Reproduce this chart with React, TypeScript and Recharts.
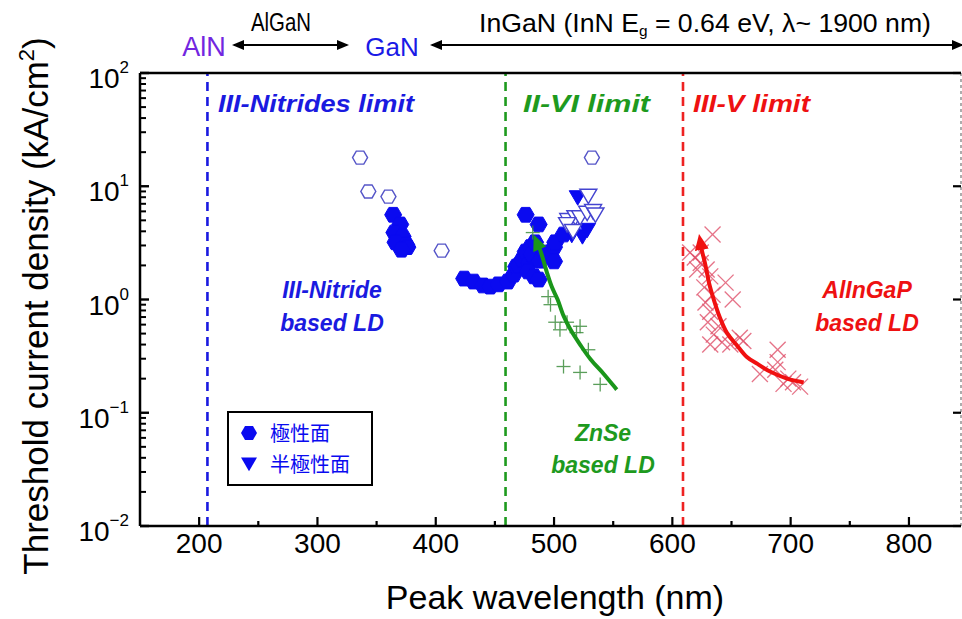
import React from 'react';
import { ScatterChart, Scatter, XAxis, YAxis, ReferenceLine } from 'recharts';

// wavelength (nm) vs threshold current density (kA/cm2)
const polarFilled = [
  { wl: 364, j: 5.6 }, { wl: 370, j: 4.6 }, { wl: 365, j: 3.9 }, { wl: 372, j: 3.6 },
  { wl: 366, j: 3.2 }, { wl: 375, j: 3.05 }, { wl: 376, j: 2.9 }, { wl: 371, j: 2.75 },
  { wl: 424, j: 1.53 }, { wl: 432, j: 1.44 }, { wl: 440, j: 1.33 }, { wl: 446, j: 1.3 },
  { wl: 453, j: 1.36 }, { wl: 461, j: 1.44 }, { wl: 466, j: 1.66 }, { wl: 468, j: 1.95 },
  { wl: 470, j: 2.0 }, { wl: 473, j: 2.25 }, { wl: 476, j: 2.65 }, { wl: 479, j: 2.1 },
  { wl: 480, j: 2.9 }, { wl: 481, j: 2.5 }, { wl: 484, j: 3.2 }, { wl: 478, j: 1.77 },
  { wl: 483, j: 1.6 }, { wl: 487, j: 1.5 }, { wl: 488, j: 2.2 }, { wl: 492, j: 2.6 },
  { wl: 500, j: 2.9 }, { wl: 500, j: 2.17 }, { wl: 476, j: 5.6 }, { wl: 487, j: 4.6 },
  { wl: 501, j: 3.2 }, { wl: 508, j: 3.75 },
];
const polarOpen = [
  { wl: 336, j: 17.9 }, { wl: 343, j: 9.0 }, { wl: 360, j: 8.1 }, { wl: 405, j: 2.7 }, { wl: 532, j: 17.9 },
];
const semiFilled = [
  { wl: 520, j: 7.95 }, { wl: 524, j: 3.6 }, { wl: 528, j: 4.1 }, { wl: 515, j: 3.7 },
];
const semiOpen = [
  { wl: 529, j: 8.2 }, { wl: 512, j: 5.0 }, { wl: 518, j: 5.3 }, { wl: 522, j: 5.3 },
  { wl: 528, j: 5.8 }, { wl: 533, j: 6.0 }, { wl: 535, j: 5.6 }, { wl: 511, j: 4.6 }, { wl: 516, j: 4.0 },
];
const znse = [
  { wl: 482, j: 3.9 }, { wl: 495, j: 1.06 }, { wl: 497, j: 0.9 }, { wl: 501, j: 0.63 },
  { wl: 511, j: 0.63 }, { wl: 505, j: 0.54 }, { wl: 522, j: 0.58 }, { wl: 519, j: 0.51 },
  { wl: 529, j: 0.36 }, { wl: 508, j: 0.256 }, { wl: 522, j: 0.227 }, { wl: 539, j: 0.178 },
];
const znseFit = [
  { wl: 553, j: 0.16 }, { wl: 542, j: 0.22 }, { wl: 531, j: 0.295 }, { wl: 522, j: 0.4 },
  { wl: 514, j: 0.54 }, { wl: 508, j: 0.72 }, { wl: 503, j: 1.0 }, { wl: 498, j: 1.3 },
  { wl: 494, j: 1.73 }, { wl: 489, j: 2.6 }, { wl: 486, j: 3.1 },
];
const alingap = [
  { wl: 634, j: 3.75 }, { wl: 615, j: 2.6 }, { wl: 619, j: 2.35 }, { wl: 624, j: 2.1 },
  { wl: 629, j: 1.84 }, { wl: 621, j: 1.84 }, { wl: 632, j: 1.6 }, { wl: 645, j: 1.41 },
  { wl: 627, j: 1.28 }, { wl: 651, j: 1.0 }, { wl: 634, j: 1.1 }, { wl: 628, j: 0.94 },
  { wl: 632, j: 0.78 }, { wl: 630, j: 0.63 }, { wl: 639, j: 0.58 }, { wl: 635, j: 0.49 },
  { wl: 632, j: 0.4 }, { wl: 642, j: 0.42 }, { wl: 649, j: 0.4 }, { wl: 657, j: 0.46 },
  { wl: 660, j: 0.43 }, { wl: 689, j: 0.36 }, { wl: 689, j: 0.28 }, { wl: 687, j: 0.24 },
  { wl: 674, j: 0.22 }, { wl: 698, j: 0.2 }, { wl: 702, j: 0.186 }, { wl: 708, j: 0.17 },
  { wl: 694, j: 0.18 }, { wl: 624, j: 2.6 },
];
const alingapFit = [
  { wl: 711, j: 0.185 }, { wl: 697, j: 0.2 }, { wl: 683, j: 0.23 }, { wl: 672, j: 0.27 },
  { wl: 663, j: 0.31 }, { wl: 654, j: 0.4 }, { wl: 646, j: 0.51 }, { wl: 640, j: 0.7 },
  { wl: 635, j: 1.0 }, { wl: 631, j: 1.4 }, { wl: 628, j: 2.0 }, { wl: 625, j: 2.7 }, { wl: 624, j: 3.1 },
];
const limits = [
  { wl: 207, color: '#1a1ae0' },
  { wl: 459, color: '#1e9a1e' },
  { wl: 609, color: '#ee2222' },
];

const xTicks = [200, 250, 300, 350, 400, 450, 500, 550, 600, 650, 700, 750, 800];
const yTicks: number[] = [];
for (let d = -2; d <= 1; d++) {
  for (let m = 1; m <= 9; m++) yTicks.push(+(m * Math.pow(10, d)).toPrecision(3));
}
yTicks.push(100);
const yMajors = [0.01, 0.1, 1, 10, 100];

const FONT = "'Liberation Sans', Arial, sans-serif";
const BLUE = '#0a0af0';

const hexPts = (cx: number, cy: number, r: number) =>
  [0, 60, 120, 180, 240, 300]
    .map((a) => `${cx + r * Math.cos((a * Math.PI) / 180)},${cy + r * Math.sin((a * Math.PI) / 180)}`)
    .join(' ');

const HexFilled = (p: any) => <polygon points={hexPts(p.cx, p.cy, 8.5)} fill={BLUE} stroke={BLUE} strokeWidth={1} />;
const HexOpen = (p: any) => <polygon points={hexPts(p.cx, p.cy, 7.5)} fill="#fff" stroke="#5555c8" strokeWidth={1.4} />;
const triPts = (cx: number, cy: number, r: number) =>
  `${cx - r},${cy - r * 0.8} ${cx + r},${cy - r * 0.8} ${cx},${cy + r * 0.9}`;
const TriFilled = (p: any) => <polygon points={triPts(p.cx, p.cy, 8.5)} fill={BLUE} stroke={BLUE} strokeWidth={1} />;
const TriOpen = (p: any) => <polygon points={triPts(p.cx, p.cy, 8.5)} fill="#fff" stroke="#4444d0" strokeWidth={1.4} />;
const Plus = (p: any) => (
  <g stroke="#3e8e3e" strokeWidth={1.3} opacity={0.85}>
    <line x1={p.cx - 7} x2={p.cx + 7} y1={p.cy} y2={p.cy} />
    <line x1={p.cx} x2={p.cx} y1={p.cy - 7} y2={p.cy + 7} />
  </g>
);
const Cross = (p: any) => (
  <g stroke="#e0506a" strokeWidth={1.3} opacity={0.8}>
    <line x1={p.cx - 8} x2={p.cx + 8} y1={p.cy - 8} y2={p.cy + 8} />
    <line x1={p.cx - 8} x2={p.cx + 8} y1={p.cy + 8} y2={p.cy - 8} />
  </g>
);
const NoDot = () => <g />;

// smooth the fitted trend through its points (Catmull-Rom -> cubic Bezier)
const smoothPath = (pts: { x: number; y: number }[]) => {
  let d = `M${pts[0].x},${pts[0].y}`;
  for (let i = 0; i < pts.length - 1; i++) {
    const p0 = pts[i - 1] || pts[i];
    const p1 = pts[i];
    const p2 = pts[i + 1];
    const p3 = pts[i + 2] || p2;
    const c1x = p1.x + (p2.x - p0.x) / 6;
    const c1y = p1.y + (p2.y - p0.y) / 6;
    const c2x = p2.x - (p3.x - p1.x) / 6;
    const c2y = p2.y - (p3.y - p1.y) / 6;
    d += ` C${c1x},${c1y} ${c2x},${c2y} ${p2.x},${p2.y}`;
  }
  return d;
};

const fitLine = (color: string, marker: string) => (p: any) => {
  const pts = (p.points || []).map((pt: any) => ({ x: pt.x ?? pt.cx, y: pt.y ?? pt.cy }));
  if (pts.length < 2) return <g />;
  return (
    <path d={smoothPath(pts)} fill="none" stroke={color} strokeWidth={4}
      strokeLinejoin="round" markerEnd={`url(#${marker})`} />
  );
};

const LeftTick = (props: any) => {
  const { x, y, payload } = props;
  const v = payload.value;
  const major = yMajors.some((m) => Math.abs(m - v) < 1e-9);
  const e = Math.round(Math.log10(v));
  return (
    <g>
      <line x1={x} x2={x + (major ? 9 : 6)} y1={y} y2={y} stroke="#000" strokeWidth={major ? 2.4 : 2} />
      {major && (
        <text x={x - 11} y={y + 15} textAnchor="end" fontSize={28} fontFamily={FONT} fill="#000">
          10<tspan dy={-15} fontSize={17}>{e < 0 ? '\u2212' + Math.abs(e) : String(e)}</tspan>
        </text>
      )}
    </g>
  );
};
const RightTick = (props: any) => {
  const { x, y } = props;
  return <line x1={x} x2={x - 8} y1={y} y2={y} stroke="#000" strokeWidth={2.2} />;
};
const BottomTick = (props: any) => {
  const { x, y, payload } = props;
  const major = payload.value % 100 === 0;
  return (
    <g>
      <line x1={x} x2={x} y1={y} y2={y - (major ? 9 : 5)} stroke="#000" strokeWidth={2.2} />
      {major && (
        <text x={x} y={y + 27} textAnchor="middle" fontSize={28} fontFamily={FONT} fill="#000">
          {payload.value}
        </text>
      )}
    </g>
  );
};
const TopTick = (props: any) => {
  const { x, y, payload } = props;
  const major = payload.value % 100 === 0;
  return <line x1={x} x2={x} y1={y} y2={y + (major ? 9 : 5)} stroke="#000" strokeWidth={2.2} />;
};

const lbl = { fontFamily: FONT, fontWeight: 700, fontStyle: 'italic' as const, fontSize: 23 };

export default function App() {
  return (
    <div style={{ position: 'absolute', left: 0, top: 0, width: 962, height: 619, background: '#fff', overflow: 'hidden' }}>
      <ScatterChart width={962} height={619} margin={{ top: 71, right: 0, left: 80, bottom: 33 }}>
        <XAxis dataKey="wl" type="number" domain={[150, 844]} ticks={xTicks} interval={0}
          allowDataOverflow tickSize={0} tickMargin={0} tickLine={false} height={60}
          axisLine={{ stroke: '#000', strokeWidth: 2.5 }} tick={<BottomTick />} />
        <XAxis xAxisId="t" orientation="top" type="number" domain={[150, 844]} ticks={xTicks} interval={0}
          allowDataOverflow tickSize={0} tickMargin={0} tickLine={false} height={2}
          axisLine={{ stroke: '#000', strokeWidth: 2.5 }} tick={<TopTick />} />
        <YAxis dataKey="j" type="number" scale="log" domain={[0.01, 100]} ticks={yTicks} interval={0}
          allowDataOverflow tickSize={0} tickMargin={0} tickLine={false} width={60}
          axisLine={{ stroke: '#000', strokeWidth: 2.5 }} tick={<LeftTick />} />
        <YAxis yAxisId="r" orientation="right" type="number" scale="log" domain={[0.01, 100]} ticks={yMajors}
          interval={0} allowDataOverflow tickSize={0} tickMargin={0} tickLine={false} width={1}
          axisLine={{ stroke: '#777', strokeWidth: 1.2, strokeDasharray: '3 3' }} tick={<RightTick />} />
        {limits.map((l) => (
          <ReferenceLine key={l.wl} x={l.wl} stroke={l.color} strokeWidth={2.6} strokeDasharray="9 6" />
        ))}
        <Scatter data={polarFilled} shape={HexFilled} isAnimationActive={false} />
        <Scatter data={semiFilled} shape={TriFilled} isAnimationActive={false} />
        <Scatter data={semiOpen} shape={TriOpen} isAnimationActive={false} />
        <Scatter data={polarOpen} shape={HexOpen} isAnimationActive={false} />
        <Scatter data={znse} shape={Plus} isAnimationActive={false} />
        <Scatter data={znseFit} shape={NoDot} line={fitLine('#1a961a', 'arrG')} lineType="joint" isAnimationActive={false} />
        <Scatter data={alingap} shape={Cross} isAnimationActive={false} />
        <Scatter data={alingapFit} shape={NoDot} line={fitLine('#f01010', 'arrR')} lineType="joint" isAnimationActive={false} />
      </ScatterChart>

      <svg width={962} height={619} style={{ position: 'absolute', left: 0, top: 0, pointerEvents: 'none' }}>
        <defs>
          <marker id="arrG" markerWidth={16} markerHeight={14} refX={6} refY={7} orient="auto" markerUnits="userSpaceOnUse">
            <path d="M0,0 L16,7 L0,14 z" fill="#1a961a" />
          </marker>
          <marker id="arrR" markerWidth={16} markerHeight={14} refX={6} refY={7} orient="auto" markerUnits="userSpaceOnUse">
            <path d="M0,0 L16,7 L0,14 z" fill="#f01010" />
          </marker>
          <marker id="arrK" markerWidth={12} markerHeight={10} refX={10} refY={5} orient="auto-start-reverse" markerUnits="userSpaceOnUse">
            <path d="M0,0 L12,5 L0,10 z" fill="#000" />
          </marker>
        </defs>

        {/* composition range along the top */}
        <text x={204} y={56} textAnchor="middle" fontSize={27} fontFamily={FONT} fill="#7226e0">AlN</text>
        <text x={281} y={31} textAnchor="middle" fontSize={26} fontFamily={FONT} fill="#000" textLength={60} lengthAdjust="spacingAndGlyphs">AlGaN</text>
        <line x1={234} x2={347} y1={45} y2={45} stroke="#000" strokeWidth={2} markerStart="url(#arrK)" markerEnd="url(#arrK)" />
        <text x={392} y={56} textAnchor="middle" fontSize={26} fontFamily={FONT} fill="#1a1ae6">GaN</text>
        <line x1={432} x2={962} y1={45} y2={45} stroke="#000" strokeWidth={2} markerStart="url(#arrK)" markerEnd="url(#arrK)" />
        <text x={705} y={32} textAnchor="middle" fontSize={26} fontFamily={FONT} fill="#000" textLength={452} lengthAdjust="spacingAndGlyphs">
          InGaN (InN E<tspan fontSize={15} dy={4}>g</tspan><tspan dy={-4}> = 0.64 eV, λ~ 1900 nm)</tspan>
        </text>

        <text {...lbl} x={218} y={112} fill="#1a1ae0" textLength={196} lengthAdjust="spacingAndGlyphs">III-Nitrides limit</text>
        <text {...lbl} x={523} y={112} fill="#1e9a1e" textLength={127} lengthAdjust="spacingAndGlyphs">II-VI limit</text>
        <text {...lbl} x={693} y={112} fill="#ee1111" textLength={117} lengthAdjust="spacingAndGlyphs">III-V limit</text>
        <text {...lbl} x={332} y={298} textAnchor="middle" fill="#1a1ae0">III-Nitride</text>
        <text {...lbl} x={332} y={331} textAnchor="middle" fill="#1a1ae0">based LD</text>
        <text {...lbl} x={603} y={441} textAnchor="middle" fill="#1e9a1e">ZnSe</text>
        <text {...lbl} x={603} y={473} textAnchor="middle" fill="#1e9a1e">based LD</text>
        <text {...lbl} x={867} y={298} textAnchor="middle" fill="#ee1111">AlInGaP</text>
        <text {...lbl} x={867} y={331} textAnchor="middle" fill="#ee1111">based LD</text>

        {/* legend */}
        <rect x={228} y={412} width={144} height={73} fill="#fff" stroke="#000" strokeWidth={2} />
        <polygon points={hexPts(249, 433, 8)} fill={BLUE} />
        <polygon points={triPts(249, 464, 8)} fill={BLUE} />
        <text x={270} y={441} fontSize={20} fontFamily="'Noto Sans CJK JP', sans-serif" fill={BLUE}>極性面</text>
        <text x={270} y={472} fontSize={20} fontFamily="'Noto Sans CJK JP', sans-serif" fill={BLUE}>半極性面</text>

        {/* axis titles */}
        <text transform="translate(48,306) rotate(-90)" textAnchor="middle" fontSize={35} fontFamily={FONT} fill="#000">
          Threshold current density (kA/cm<tspan dy={-14} fontSize={22}>2</tspan><tspan dy={14}>)</tspan>
        </text>
        <text x={555} y={609} textAnchor="middle" fontSize={34} fontFamily={FONT} fill="#000">Peak wavelength (nm)</text>
      </svg>
    </div>
  );
}
